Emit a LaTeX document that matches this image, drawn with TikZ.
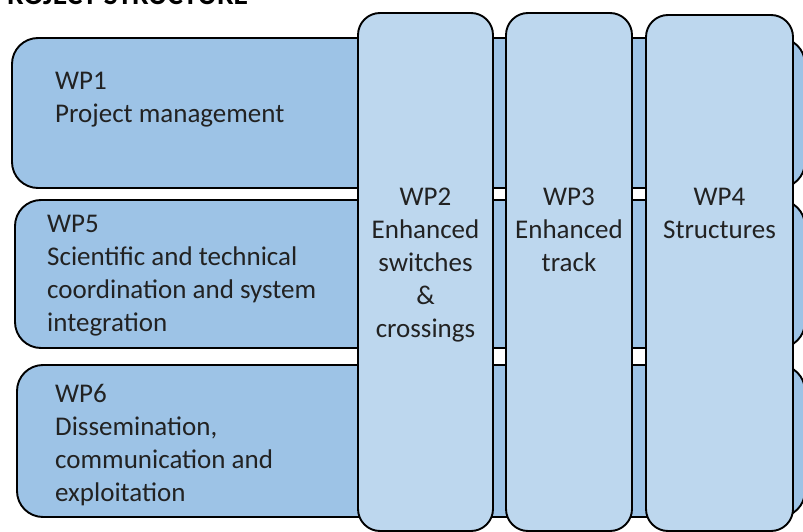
\documentclass[tikz,border=0pt]{standalone}
\usepackage{fontspec}
\setmainfont{Carlito}
\usetikzlibrary{positioning}
\definecolor{barblue}{HTML}{9DC3E6}
\definecolor{colblue}{HTML}{BDD7EE}
\definecolor{wpgray}{HTML}{222222}
\begin{document}
\begin{tikzpicture}
[x=1pt, y=-1pt, font=\fontsize{27}{33}\selectfont,
bar/.style={draw, line width=1.9pt, fill=barblue, rounded corners=26pt, anchor=north west, inner sep=0pt, outer sep=0pt},
column/.style={draw, line width=1.9pt, fill=colblue, rounded corners=22pt, inner sep=0pt, outer sep=0pt, minimum height=518pt},
wp/.style={text=wpgray, inner sep=0pt}]

\useasboundingbox (0,0) rectangle (803,532);

\node [font=\fontsize{29.5}{35}\selectfont\bfseries, anchor=base west] (title) at (-12,5) {PROJECT STRUCTURE};

\node [bar, minimum width=793pt, minimum height=150pt] (wp1) at (12,38) {};
\node [bar, minimum width=790pt, minimum height=148pt] (wp5) at (15,200) {};
\node [bar, minimum width=788pt, minimum height=152pt] (wp6) at (17,365) {};

\node [wp, align=left, below right=34pt and 43pt of wp1.north west] (wp1text) {WP1\\Project management};
\node [wp, align=left, below right=15pt and 32pt of wp5.north west] (wp5text) {WP5\\Scientific and technical\\coordination and system\\integration};
\node [wp, align=left, below right=19pt and 38pt of wp6.north west] (wp6text) {WP6\\Dissemination,\\communication and\\exploitation};

\node [column, minimum width=135pt, anchor=north west] (wp2) at (358,13) {};
\node [column, minimum width=126pt, right=13pt of wp2.north east, anchor=north west] (wp3) {};
\node [column, minimum width=147pt, minimum height=516pt, below right=2pt and 14pt of wp3.north east, anchor=north west] (wp4) {};

\node [wp, align=center, below=175pt of wp2.north] (wp2text) {WP2\\Enhanced\\switches\\\&\\crossings};
\node [wp, align=center, below=175pt of wp3.north] (wp3text) {WP3\\Enhanced\\track};
\node [wp, align=center, below=173pt of wp4.north] (wp4text) {WP4\\Structures};
\end{tikzpicture}
\end{document}
